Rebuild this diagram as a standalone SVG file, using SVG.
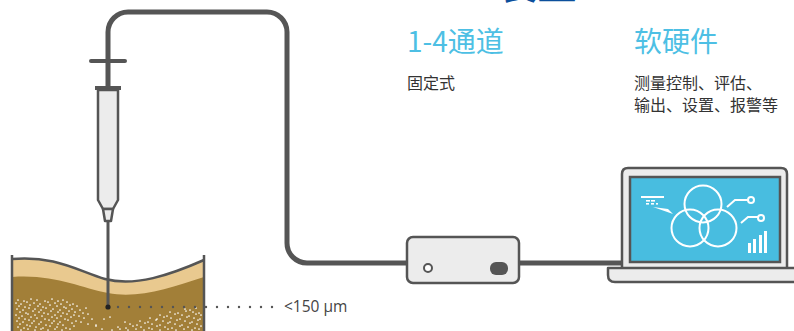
<svg xmlns="http://www.w3.org/2000/svg" width="794" height="331" viewBox="0 0 794 331">
  <style>
    .cjk { font-family: "Noto Sans CJK SC", "Noto Sans", sans-serif; }
    .head { font-size: 28px; fill: #4dbfe4; }
    .body { font-size: 16px; fill: #333333; }
    .outline { stroke: #555555; stroke-width: 2.5; stroke-linejoin: round; }
    .shell { fill: #ececec; }
    .wire { fill: none; stroke: #555555; stroke-width: 5; stroke-linecap: round; stroke-linejoin: round; }
    .scr { fill: none; stroke: #ffffff; stroke-width: 2; }
  </style>

  <!-- Title, partly above the top edge -->
  <text class="cjk" x="497" y="-1" font-size="40" fill="#0b4f9c">装置</text>

  <!-- Column headings -->
  <g id="channels">
    <text class="cjk head" x="407" y="52">1-4通道</text>
    <text class="cjk body" x="407" y="89">固定式</text>
  </g>
  <g id="software">
    <text class="cjk head" x="634" y="52">软硬件</text>
    <text class="cjk body" x="634" y="89">测量控制、评估、</text>
    <text class="cjk body" x="634" y="111">输出、设置、报警等</text>
  </g>

  <!-- Connectors -->
  <g id="connectors">
    <path class="wire" d="M108,88 V32 A20,20 0 0 1 128,12 H267 A20,20 0 0 1 287,32 V243 A20,20 0 0 0 307,263 H408"/>
    <path class="wire" stroke-linecap="butt" d="M518,263 H624"/>
  </g>

  <!-- Soil sample in container -->
  <g id="soil">
    <path d="M12,259 C55,255 80,272 105,279 C135,287 170,275 204,260 V331 H12 Z" fill="#e9c98f"/>
    <path d="M12,277 C55,274 80,288 108,293 C138,299 170,288 204,277 V331 H12 Z" fill="#a27f38"/>
    <path d="M12,259 C55,255 80,272 105,279 C135,287 170,275 204,260" fill="none" stroke="#555555" stroke-width="2.5"/>
    <path fill="none" stroke="#ffffff" stroke-width="1.7" stroke-linecap="round" d="
      M18,300h0 M24,301h0 M31,299h0 M37,300h0 M45,301h0 M52,299h0 M58,301h0 M63,300h0
      M16,303h0 M21,304h0 M27,302h0 M34,303h0 M40,304h0 M48,302h0 M55,303h0 M61,304h0 M67,302h0 M73,304h0
      M19,306h0 M25,307h0 M30,305h0 M38,306h0 M43,307h0 M50,305h0 M57,306h0 M64,307h0 M70,305h0 M77,306h0
      M17,309h0 M23,310h0 M29,308h0 M35,309h0 M41,310h0 M46,308h0 M53,309h0 M60,310h0 M66,308h0 M72,309h0 M80,310h0 M86,308h0
      M20,312h0 M26,313h0 M33,311h0 M39,312h0 M44,313h0 M51,311h0 M58,312h0 M63,313h0 M69,311h0 M75,312h0 M83,313h0
      M16,315h0 M22,316h0 M28,314h0 M35,315h0 M42,316h0 M48,314h0 M55,315h0 M61,316h0 M67,314h0 M74,315h0 M79,316h0 M88,314h0
      M19,318h0 M25,319h0 M31,317h0 M37,318h0 M45,319h0 M52,317h0 M57,318h0 M65,319h0 M71,317h0 M84,318h0 M92,319h0
      M17,321h0 M23,322h0 M29,320h0 M34,321h0 M41,322h0 M49,320h0 M54,321h0 M60,322h0 M68,320h0 M76,321h0 M81,322h0
      M20,324h0 M27,325h0 M32,323h0 M39,324h0 M46,325h0 M52,323h0 M58,324h0 M63,325h0 M72,323h0 M88,324h0 M96,325h0
      M18,327h0 M24,328h0 M30,326h0 M36,327h0 M43,328h0 M50,326h0 M57,327h0 M66,328h0 M74,326h0
      M21,330h0 M28,329h0 M35,330h0 M41,329h0 M48,330h0 M55,329h0 M62,330h0 M70,329h0
      M185,309h0 M190,310h0 M196,308h0
      M170,312h0 M178,313h0 M186,311h0 M193,312h0 M199,313h0
      M160,315h0 M167,316h0 M175,314h0 M182,315h0 M189,316h0 M196,314h0 M201,315h0
      M150,318h0 M157,319h0 M164,317h0 M171,318h0 M180,319h0 M187,317h0 M194,318h0 M200,319h0
      M140,321h0 M148,322h0 M156,320h0 M163,321h0 M170,322h0 M177,320h0 M185,321h0 M192,322h0 M198,320h0
      M130,324h0 M137,325h0 M145,323h0 M152,324h0 M160,325h0 M168,323h0 M175,324h0 M182,325h0 M190,323h0 M197,324h0
      M118,327h0 M126,328h0 M133,326h0 M141,327h0 M149,328h0 M157,326h0 M165,327h0 M172,328h0 M180,326h0 M188,327h0 M195,328h0 M201,326h0
      M112,330h0 M120,329h0 M128,330h0 M136,329h0 M144,330h0 M152,329h0 M160,330h0 M168,329h0 M176,330h0 M184,329h0 M192,330h0 M199,329h0
      M104,319h0 M110,317h0 M96,326h0 M102,329h0 M125,322h0"/>
    <path d="M12,255 V331 M204,255 V331" stroke="#555555" stroke-width="2.5" fill="none"/>
  </g>

  <!-- Syringe with needle -->
  <g id="syringe">
    <line x1="91" y1="61" x2="125" y2="61" stroke="#555555" stroke-width="4" stroke-linecap="round"/>
    <rect x="95" y="86" width="26" height="4" fill="#555555"/>
    <line x1="108" y1="221" x2="108" y2="307" stroke="#555555" stroke-width="3"/>
    <path class="shell outline" d="M98,90 V200 L103,209 H113 L118,200 V90 Z"/>
    <path class="shell outline" d="M103,209 L105,221 H111 L113,209 Z"/>
    <circle cx="108" cy="307" r="2.6" fill="#222222"/>
  </g>

  <!-- Depth marker -->
  <g id="depth">
    <line x1="118" y1="307" x2="274" y2="307" stroke="#555555" stroke-width="2.4" stroke-linecap="round" stroke-dasharray="0 11"/>
    <text x="284" y="312" font-family="Open Sans, Noto Sans, sans-serif" font-size="15.5" fill="#444444">&lt;150 µm</text>
  </g>

  <!-- Measuring unit -->
  <g id="unit">
    <rect class="shell outline" x="407" y="237" width="112" height="46" rx="6"/>
    <circle cx="428" cy="268" r="4" fill="#ffffff" stroke="#555555" stroke-width="2"/>
    <rect x="490" y="262" width="18" height="13" rx="6" fill="#555555"/>
  </g>

  <!-- Laptop -->
  <g id="laptop">
    <path class="shell outline" d="M622,270 V174 Q622,168 628,168 H781 Q787,168 787,174 V270"/>
    <rect x="630" y="177" width="150" height="85" fill="#48bde0" stroke="#555555" stroke-width="2.5"/>
    <path class="shell outline" d="M608,268 H800 V282 H615 Q608,282 608,275 Z"/>
    <circle class="scr" cx="703" cy="204" r="18.5"/>
    <circle class="scr" cx="690" cy="228" r="18.5"/>
    <circle class="scr" cx="718" cy="228" r="18.5"/>
    <path class="scr" d="M727,207 L735,200 H748"/>
    <circle class="scr" cx="751" cy="200" r="3"/>
    <path class="scr" d="M741,223 L748,217 H758"/>
    <circle class="scr" cx="761" cy="218" r="3"/>
    <g fill="#ffffff">
      <rect x="641" y="196" width="23" height="2"/>
      <rect x="646" y="200" width="4" height="1.6"/>
      <rect x="651" y="200" width="4" height="1.6"/>
      <rect x="646" y="203" width="3" height="1.6"/>
      <rect x="651" y="203" width="3" height="1.6"/>
      <rect x="656" y="203" width="2" height="1.6"/>
      <path d="M653,207 L668,209 L673,214 Z"/>
      <rect x="748" y="243" width="3" height="10"/>
      <rect x="753" y="239" width="3" height="14"/>
      <rect x="759" y="235" width="3" height="18"/>
      <rect x="764" y="231" width="3" height="22"/>
    </g>
  </g>
</svg>
